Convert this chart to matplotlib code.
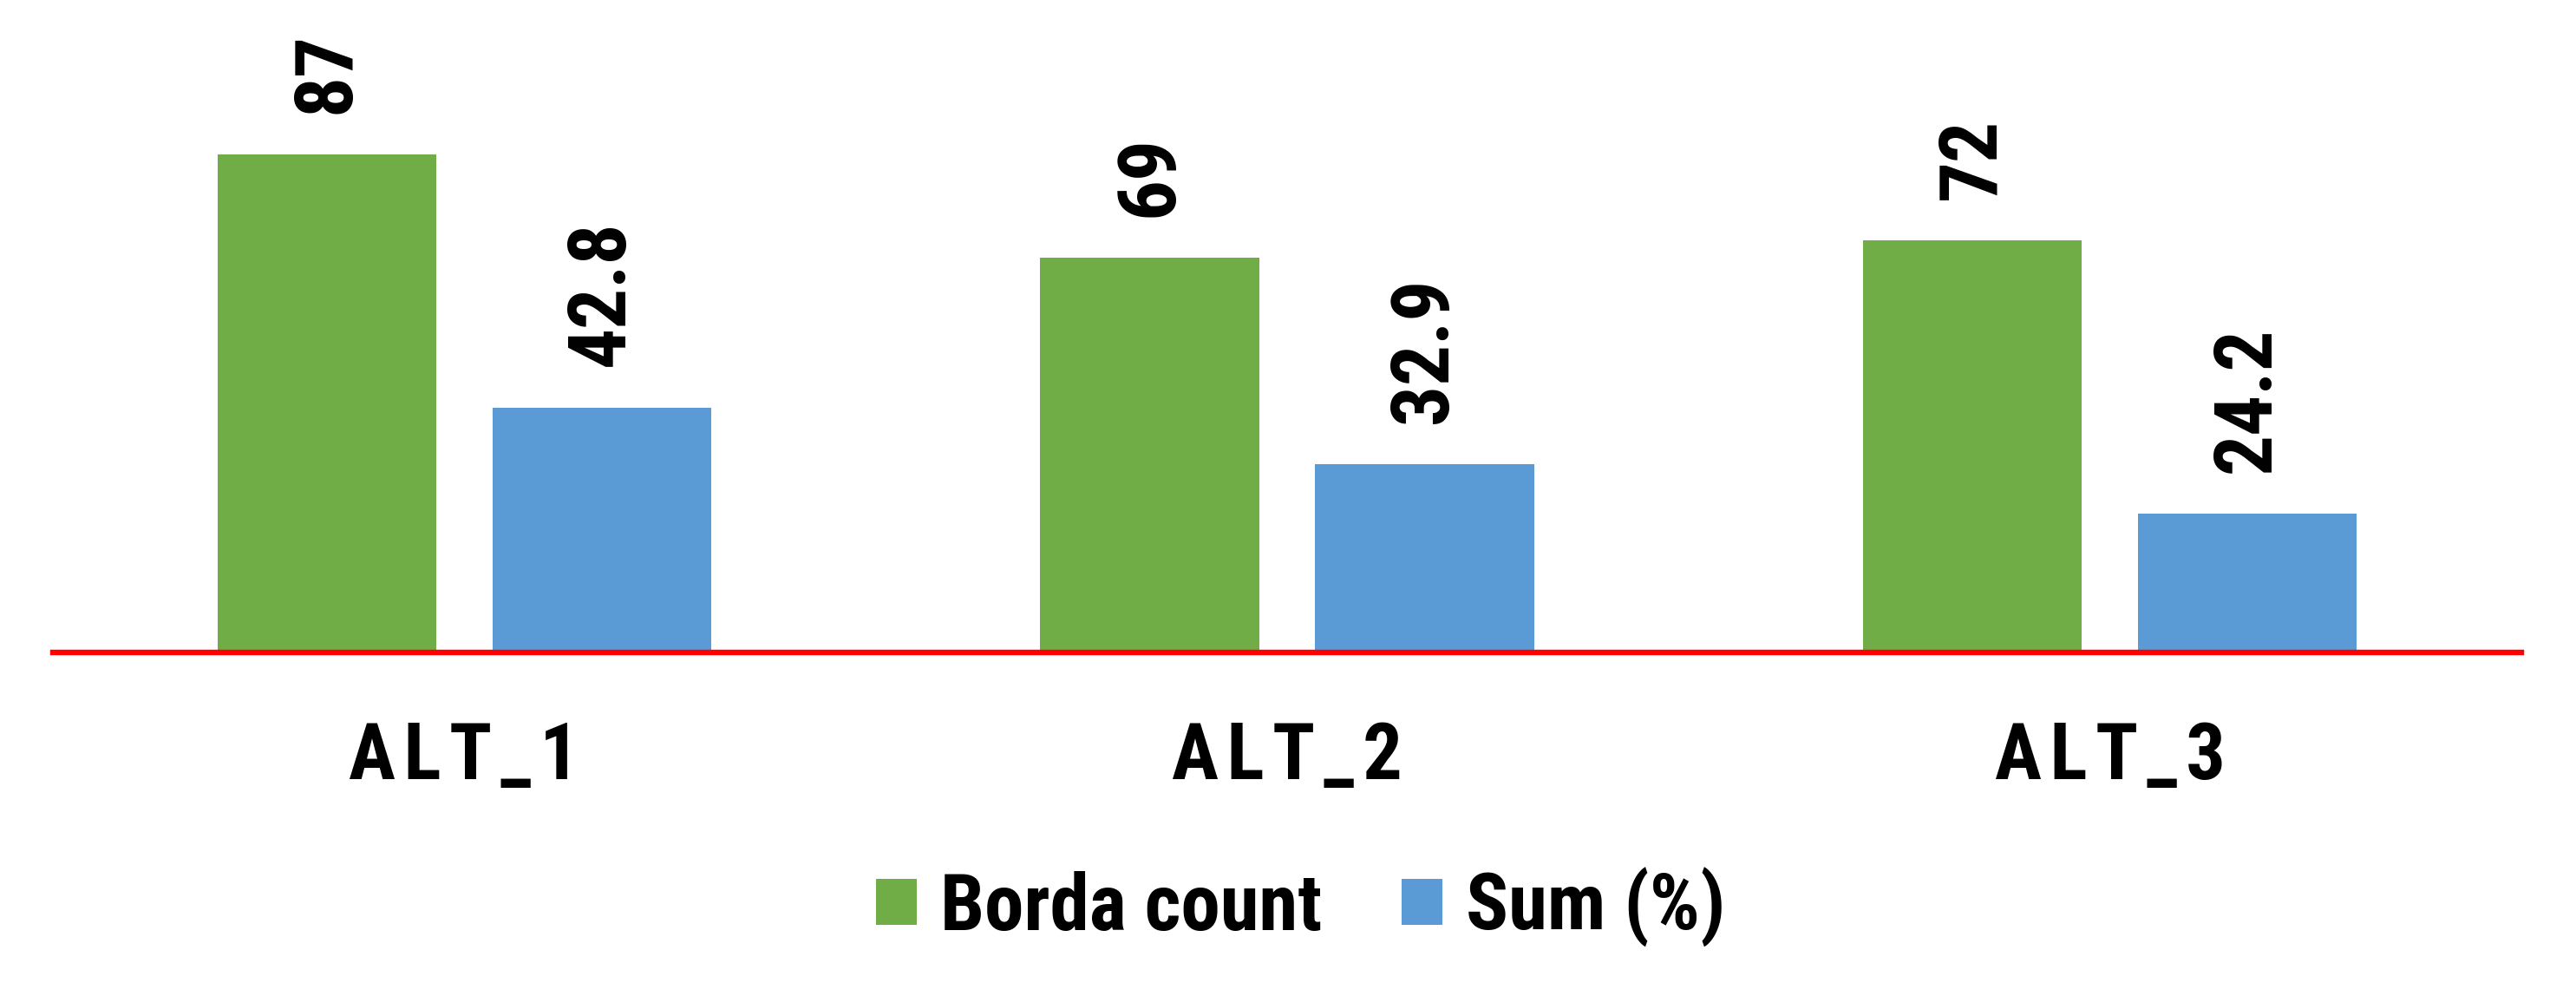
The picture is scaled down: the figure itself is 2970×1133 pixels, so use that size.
import matplotlib
matplotlib.use("Agg")
from matplotlib import pyplot as plt
import numpy as np

# datos
categorias = ["A\u200aL\u200aT\u200a_\u200a1", "A\u200aL\u200aT\u200a_\u200a2", "A\u200aL\u200aT\u200a_\u200a3"]
borda = [87, 69, 72]
suma = [42.8, 32.9, 24.2]
etiquetas_borda = ["87", "69", "72"]
etiquetas_suma = ["42.8", "32.9", "24.2"]

verde = "#70AD47"
azul = "#5B9BD5"
fuente = ["Roboto Condensed", "Liberation Sans", "DejaVu Sans"]

plt.rcParams["font.family"] = fuente
plt.rcParams["font.weight"] = "bold"

fig = plt.figure(figsize=(29.7, 11.33), dpi=100)
ax = fig.add_axes([61 / 2970, (1133 - 752) / 1133, 2846 / 2970, 752 / 1133])

x = np.arange(len(categorias))
ancho = 0.266
b1 = ax.bar(x - 0.167, borda, ancho, color=verde, label="Borda count", zorder=1)
b2 = ax.bar(x + 0.167, suma, ancho, color=azul, label="Sum (%)", zorder=1)

for barras, textos in ((b1, etiquetas_borda), (b2, etiquetas_suma)):
    for r, t in zip(barras, textos):
        ax.annotate(t, (r.get_x() + r.get_width() / 2, r.get_height()),
                    xytext=(0, 34), textcoords="offset points",
                    rotation=90, ha="center", va="bottom",
                    fontsize=67, fontweight="bold")

ax.set_xlim(-0.5, 2.5)
ax.set_ylim(0, 114)
ax.set_xticks(x)
ax.set_xticklabels(categorias, fontsize=65, fontweight="bold")
ax.tick_params(axis="x", length=0, pad=56)
ax.set_yticks([])
for lado in ("top", "left", "right"):
    ax.spines[lado].set_visible(False)
ax.spines["bottom"].set_color("#FF0000")
ax.spines["bottom"].set_linewidth(4.6)
ax.spines["bottom"].set_zorder(3)

fig.legend(loc="center", bbox_to_anchor=(0.505, 0.077), ncol=2, frameon=False,
           fontsize=65.5, handlelength=0.52, handleheight=0.52,
           handletextpad=0.3, columnspacing=1.0)

fig.savefig("out.png", dpi=100)
